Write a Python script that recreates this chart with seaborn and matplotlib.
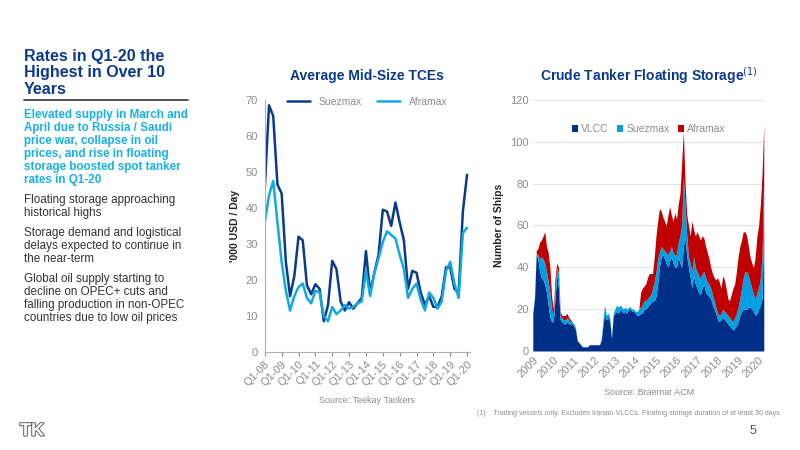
import numpy as np
import pandas as pd
import seaborn as sns
import matplotlib.pyplot as plt
import matplotlib.patheffects as pe

# ---- Average Mid-Size TCEs (quarterly, '000 USD / day) ----
quarters = [f"Q{q}-{y:02d}" for y in range(8, 21) for q in range(1, 5)][:49]
suezmax_tce = [45.5, 68.5, 65.5, 46.5, 44, 25, 15.5, 21, 32, 31, 18.5, 16,
               18.8, 17.5, 8.5, 13, 25.3, 23, 14, 11.5, 13.8, 12, 13.5, 15,
               28, 16.5, 22, 27, 39.5, 39, 35, 41.5, 36, 31, 17.5, 22.5,
               22, 16.5, 13, 15.5, 12.5, 12.5, 15.5, 23.5, 23.5, 17.5, 16.5, 39, 49.2]
aframax_tce = [36, 43.5, 47.5, 36, 25, 17, 11.5, 15.5, 18, 19, 15, 13.5,
               17, 16.5, 10, 8.5, 12.5, 10.5, 11.5, 13, 12, 12.5, 13.5, 14,
               22.5, 15.5, 22, 26, 30.5, 33.5, 32.5, 31.5, 27, 23, 15, 17.5,
               19, 14.5, 11.5, 16.5, 15, 12, 14, 22.5, 25, 19, 15, 33, 34.5]

# ---- Crude Tanker Floating Storage (monthly, stacked tops, number of ships) ----
vlcc_top = [18, 25, 46, 44, 38, 35, 34, 32, 28, 22, 16, 14,
            14, 25, 37, 30, 15, 14, 13, 13, 14, 13, 13, 13,
            12, 10, 5, 4, 3, 2, 2, 2, 2, 3, 3, 3,
            3, 3, 3, 3, 5, 12, 18, 15, 16, 14, 6, 17,
            18, 19, 18, 20, 19, 18, 19, 18, 20, 20, 19, 19,
            18, 17, 17, 18, 18, 20, 20, 21, 22, 23, 24, 24,
            26, 32, 40, 45, 46, 44, 42, 40, 43, 45, 42, 40,
            40, 45, 42, 40, 50, 54, 45, 40, 35, 30, 36, 32,
            30, 28, 27, 30, 32, 28, 27, 26, 25, 22, 20, 18,
            15, 14, 15, 16, 15, 14, 13, 12, 11, 10, 11, 12,
            14, 17, 19, 20, 20, 20, 21, 21, 20, 19, 17, 18,
            20, 22, 25, 60]
suezmax_top = [18, 26, 47, 46, 44, 45, 44, 42, 38, 33, 28, 20,
               17, 30, 40, 37, 17, 16, 15, 15, 16, 15, 14, 14,
               13, 11, 5, 4, 3, 2, 2, 2, 2, 3, 3, 3,
               3, 3, 3, 3, 6, 15, 22, 17, 18, 16, 7, 18,
               20, 22, 21, 22, 21, 20, 21, 20, 21, 21, 20, 20,
               19, 19, 20, 21, 22, 24, 24, 25, 26, 27, 30, 33,
               38, 44, 47, 50, 49, 48, 47, 46, 48, 50, 47, 46,
               46, 52, 55, 60, 83, 70, 55, 45, 42, 38, 45, 40,
               38, 36, 35, 37, 38, 35, 33, 32, 30, 27, 24, 21,
               18, 17, 18, 20, 19, 18, 17, 16, 15, 14, 16, 18,
               21, 25, 30, 35, 38, 38, 36, 33, 30, 27, 25, 28,
               30, 35, 45, 85]
aframax_top = [18, 26, 48, 49, 52, 53, 55, 57, 50, 47, 40, 26,
               20, 35, 42, 40, 19, 17, 17, 17, 18, 16, 15, 14,
               13, 11, 5, 4, 3, 2, 2, 2, 2, 3, 3, 3,
               3, 3, 3, 3, 6, 15, 22, 17, 18, 16, 7, 18,
               20, 22, 21, 22, 21, 20, 21, 20, 21, 21, 20, 20,
               19, 19, 20, 28, 30, 31, 32, 35, 37, 37, 37, 45,
               55, 62, 68, 67, 64, 62, 60, 65, 69, 65, 62, 66,
               63, 70, 75, 90, 105, 80, 65, 60, 55, 62, 58, 55,
               57, 55, 53, 55, 54, 50, 47, 44, 40, 37, 35, 34,
               35, 33, 30, 36, 34, 30, 25, 24, 27, 30, 32, 38,
               45, 50, 53, 57, 57, 55, 50, 45, 42, 40, 45, 55,
               60, 70, 85, 108]
years = list(range(2009, 2021))

NAVY = "#0b3a8c"
CYAN = "#12a8e0"
RED = "#c00000"
GREY = "#8c8c8c"

sns.set_style("white")
plt.rcParams["font.family"] = ["Liberation Sans", "DejaVu Sans"]

fig = plt.figure(figsize=(8, 4.5), dpi=100)


def text_block(lines, y0_px, step_px, **kw):
    for i, line in enumerate(lines):
        fig.text(0.03, 1 - (y0_px + i * step_px) / 450, line, va="center", **kw)


# ---------- left text panel ----------
text_block(["Rates in Q1-20 the", "Highest in Over 10", "Years"], 57, 16,
           fontsize=11.5, fontweight="bold", color=NAVY)
fig.add_artist(plt.Line2D([0.03, 0.235], [0.777, 0.777], color="#333333", lw=1.2))
text_block(["Elevated supply in March and", "April due to Russia / Saudi",
            "price war, collapse in oil", "prices, and rise in floating",
            "storage boosted spot tanker", "rates in Q1-20"], 115, 12.9,
           fontsize=8.4, fontweight="bold", color="#19b0ea")
body_kw = dict(fontsize=8.4, color="#333333")
text_block(["Floating storage approaching", "historical highs"], 200, 12.9, **body_kw)
text_block(["Storage demand and logistical", "delays expected to continue in",
            "the near-term"], 233, 12.9, **body_kw)
text_block(["Global oil supply starting to", "decline on OPEC+ cuts and",
            "falling production in non-OPEC", "countries due to low oil prices"],
           279, 12.9, **body_kw)

# ---------- left chart ----------
ax1 = fig.add_axes([0.331, 0.218, 0.256, 0.56])
tce = pd.DataFrame({"idx": range(len(quarters)), "Suezmax": suezmax_tce, "Aframax": aframax_tce})
tce_long = tce.melt("idx", var_name="Vessel", value_name="TCE")
sns.lineplot(data=tce_long, x="idx", y="TCE", hue="Vessel", palette=[NAVY, CYAN],
             lw=1.8, ax=ax1, legend=True)
ax1.set_xlim(0, len(quarters) - 1 + 0.6)
ax1.set_ylim(0, 70)
ax1.set_yticks(range(0, 71, 10))
ax1.set_xticks(range(0, len(quarters), 4))
ax1.set_xticklabels(quarters[::4], rotation=45, ha="right", rotation_mode="anchor")
ax1.tick_params(colors=GREY, labelsize=8, length=3, pad=2)
ax1.tick_params(axis="x", bottom=True)
for s in ["top", "right"]:
    ax1.spines[s].set_visible(False)
for s in ["left", "bottom"]:
    ax1.spines[s].set_color("#b0b0b0")
ax1.set_xlabel("Source: Teekay Tankers", fontsize=6.5, color=GREY, labelpad=6)
ax1.set_ylabel("'000 USD / Day", fontsize=7.5, fontweight="bold", color="#222222")
ax1.set_title("Average Mid-Size TCEs", fontsize=10, fontweight="bold", color=NAVY, pad=14)
ax1.legend(loc="upper center", bbox_to_anchor=(0.5, 1.03), ncol=2, frameon=False,
           fontsize=7.5, handlelength=2.2, labelcolor=GREY, borderaxespad=0, columnspacing=1.5)

# ---------- right chart ----------
ax2 = fig.add_axes([0.666, 0.22, 0.29, 0.558])
t = 2009 + np.arange(len(vlcc_top)) / 12
ax2.fill_between(t, 0, vlcc_top, color="#002f87", lw=0, label="VLCC")
ax2.fill_between(t, vlcc_top, suezmax_top, color="#00a0e2", lw=0, label="Suezmax")
ax2.fill_between(t, suezmax_top, aframax_top, color=RED, lw=0, label="Aframax")
ax2.set_xlim(2009, t[-1] + 0.05)
ax2.set_ylim(0, 120)
ax2.set_yticks(range(0, 121, 20))
ax2.yaxis.grid(True, color="#e3e3e3", lw=0.8)
ax2.set_axisbelow(True)
ax2.set_xticks(years)
ax2.set_xticklabels([str(y) for y in years], rotation=45, ha="right", rotation_mode="anchor")
ax2.tick_params(colors=GREY, labelsize=8, length=0, pad=3)
for s in ax2.spines.values():
    s.set_visible(False)
ax2.set_xlabel("Source: Braemar ACM", fontsize=6.5, color=GREY, labelpad=6)
ax2.set_ylabel("Number of Ships", fontsize=7.5, fontweight="bold", color="#222222")
ax2.set_title("Crude Tanker Floating Storage$^{(1)}$", fontsize=10, fontweight="bold",
              color=NAVY, pad=14)
ax2.legend(loc="upper center", bbox_to_anchor=(0.5, 0.94), ncol=3, frameon=False,
           fontsize=7.5, handlelength=0.6, handleheight=0.6, handletextpad=0.3,
           labelcolor=GREY, columnspacing=0.8)

# ---------- footer ----------
fig.text(0.975, 0.078, "(1)    Trading vessels only. Excludes Iranian VLCCs. Floating storage duration of at least 30 days",
         fontsize=5, color=GREY, ha="right")
fig.text(0.945, 0.035, "5", fontsize=9, color="#555555", ha="right")
fig.text(0.025, 0.032, "TK", fontsize=13, fontweight="bold", color="white",
         path_effects=[pe.withStroke(linewidth=1.5, foreground="#666666")])

fig.savefig("out.png", dpi=100)
